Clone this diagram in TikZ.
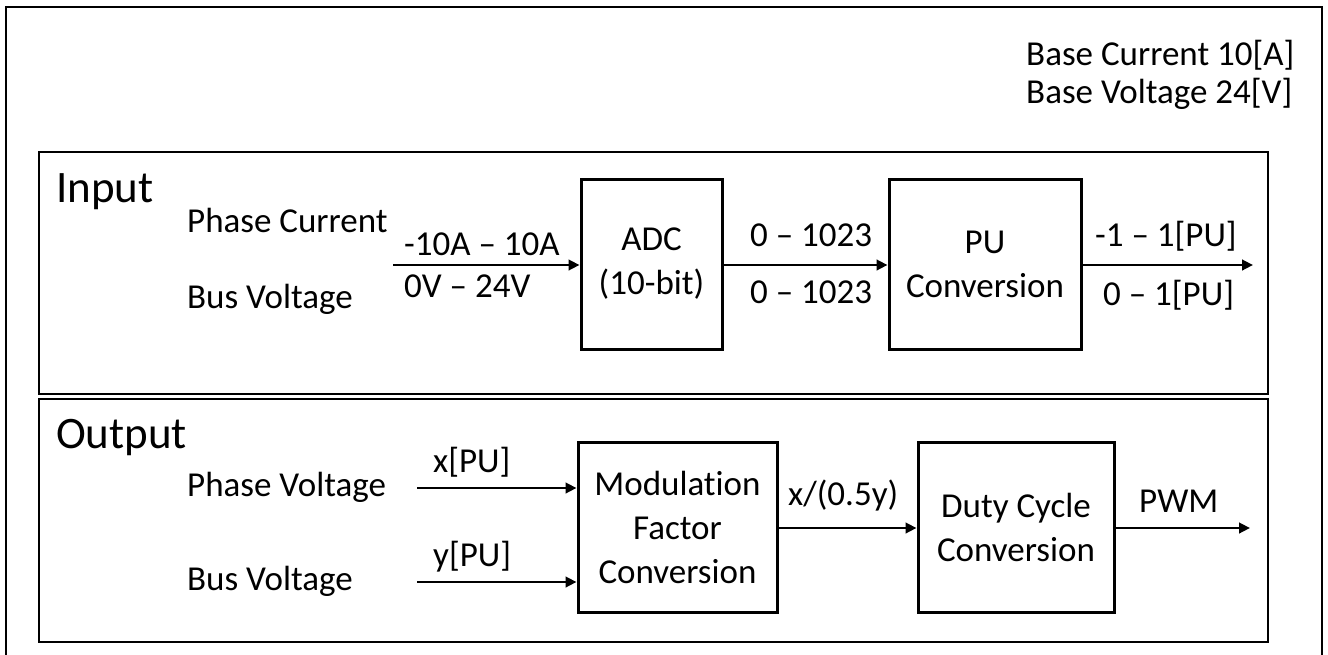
\documentclass[tikz,border=0pt]{standalone}
\usepackage{fontspec}
\setmainfont{Carlito}[Ligatures={NoCommon}]
\usetikzlibrary{arrows.meta}
\begin{document}
\begin{tikzpicture}[x=1pt,y=-1pt,
  txt/.style={inner sep=0pt,font=\fontsize{35}{44}\selectfont},
  big/.style={inner sep=0pt,font=\fontsize{45}{54}\selectfont},
  frame/.style={draw,line width=2pt},
  blk/.style={draw,line width=3pt,inner sep=0pt,align=center,font=\fontsize{35}{44}\selectfont},
  arr/.style={line width=2.6pt,-{Triangle[length=11pt,width=10.5pt]}}]
\useasboundingbox (0,0) rectangle (1328,654);
% outer frame
\draw[line width=2.3pt] (6,660) -- (6,7) -- (1322,7) -- (1322,660);
\node[txt,anchor=base west] (bc) at (1026,65) {Base Current 10[A]};
\node[txt,anchor=base west] (bv) at (1026,103) {Base Voltage 24[V]};
% input section
\draw[frame] (39,152) rectangle (1268,394);
\node[big,anchor=base west] (inlab) at (56,202) {Input};
\node[txt,anchor=base west] (pc) at (187,232) {Phase Current};
\node[txt,anchor=base west] (bus1) at (187,308) {Bus Voltage};
\node[blk,minimum width=141,minimum height=170] (adc) at (651.5,264) {ADC\\(10-bit)};
\node[blk,minimum width=192,minimum height=170] (pu) at (985,264) {PU\\Conversion};
\coordinate (in1) at (393,265);
\coordinate (out1) at (1253,265);
\draw[arr] (in1) -- (in1 -| adc.west);
\draw[arr] (adc.east |- 0,265) -- (pu.west |- 0,265);
\draw[arr] (pu.east |- 0,265) -- (out1);
\node[txt,anchor=base west] (l1) at (404,255) {-10A – 10A};
\node[txt,anchor=base west] (l2) at (404,297) {0V – 24V};
\node[txt,anchor=base west] (l3) at (750,246) {0 – 1023};
\node[txt,anchor=base west] (l4) at (750,303) {0 – 1023};
\node[txt,anchor=base west] (l5) at (1095,246) {-1 – 1[PU]};
\node[txt,anchor=base west] (l6) at (1103,305) {0 – 1[PU]};
% output section
\draw[frame] (39,399) rectangle (1268,642);
\node[big,anchor=base west] (outlab) at (56,448) {Output};
\node[txt,anchor=base west] (pv) at (187,496) {Phase Voltage};
\node[txt,anchor=base west] (bus2) at (187,590) {Bus Voltage};
\node[blk,minimum width=199,minimum height=170] (mod) at (677.5,527) {Modulation\\Factor\\Conversion};
\node[blk,minimum width=196,minimum height=170] (duty) at (1016,527) {Duty Cycle\\Conversion};
\coordinate (i2) at (417,488);
\coordinate (i3) at (417,582);
\coordinate (out2) at (1250,528);
\draw[arr] (i2) -- (i2 -| mod.west);
\draw[arr] (i3) -- (i3 -| mod.west);
\draw[arr] (mod.east |- 0,528) -- (duty.west |- 0,528);
\draw[arr] (duty.east |- 0,528) -- (out2);
\node[txt,anchor=base west] (xpu) at (433,472) {x[PU]};
\node[txt,anchor=base west] (ypu) at (433,566) {y[PU]};
\node[txt,anchor=base west] (ratio) at (788,505) {x/(0.5y)};
\node[txt,anchor=base west] (pwm) at (1139,512) {PWM};
\end{tikzpicture}
\end{document}
